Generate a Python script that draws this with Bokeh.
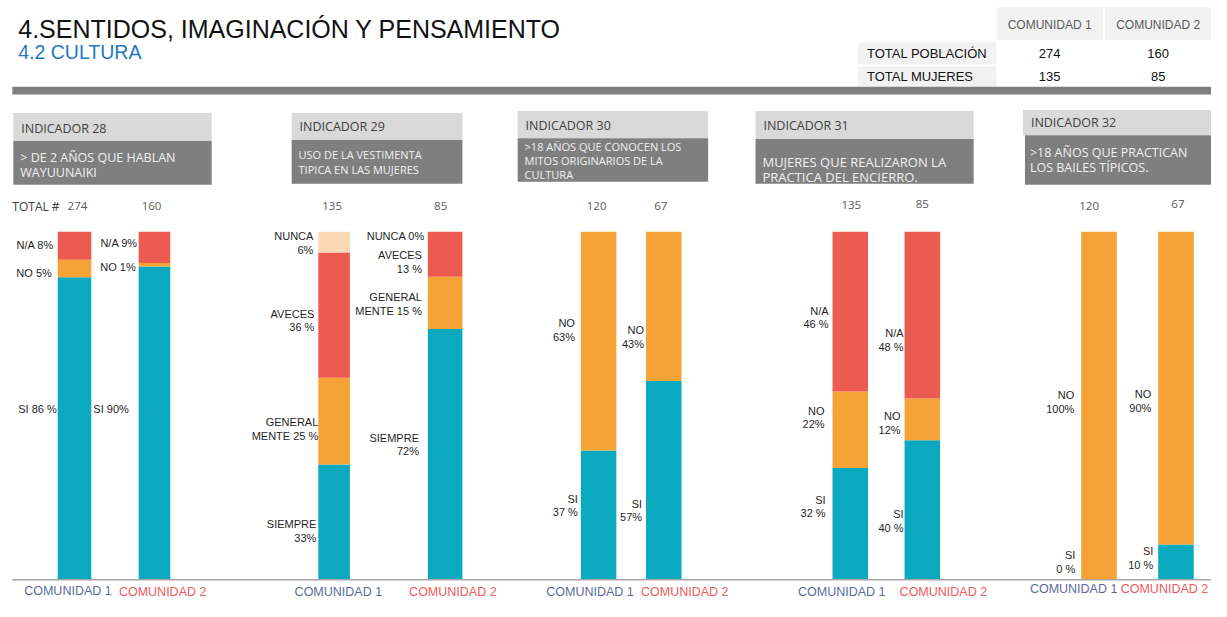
from bokeh.plotting import figure
from bokeh.models import Range1d, ColumnDataSource
from bokeh.embed import file_html
from bokeh.resources import INLINE
from bokeh.core.properties import value

# ---------------- DATA ----------------
communities = ["COMUNIDAD 1", "COMUNIDAD 2"]
table_rows = ["TOTAL POBLACIÓN", "TOTAL MUJERES"]
total_poblacion = [274, 160]
total_mujeres = [135, 85]

ind_titles = ["INDICADOR 28", "INDICADOR 29", "INDICADOR 30", "INDICADOR 31", "INDICADOR 32"]
ind_desc = [
    ["> DE 2 AÑOS QUE HABLAN", "WAYUUNAIKI"],
    ["USO DE LA VESTIMENTA", "TIPICA EN LAS MUJERES"],
    [">18 AÑOS QUE CONOCEN LOS", "MITOS ORIGINARIOS DE LA", "CULTURA"],
    ["MUJERES QUE REALIZARON LA", "PRACTICA DEL ENCIERRO."],
    [">18 AÑOS QUE PRACTICAN", "LOS BAILES TÍPICOS."],
]
ind_totals = [[274, 160], [135, 85], [120, 67], [135, 85], [120, 67]]

# stacked segments, bottom -> top, values in % for [COMUNIDAD 1, COMUNIDAD 2]
ind28_si = [86, 90]
ind28_no = [5, 1]
ind28_na = [8, 9]

ind29_siempre = [33, 72]
ind29_generalmente = [25, 15]
ind29_aveces = [36, 13]
ind29_nunca = [6, 0]

ind30_si = [37, 57]
ind30_no = [63, 43]

ind31_si = [32, 40]
ind31_no = [22, 12]
ind31_na = [46, 48]

ind32_si = [0, 10]
ind32_no = [100, 90]

# segment labels (lines) per indicator, per community
ind_labels = [
    [[["N/A 8%"], ["NO 5%"], ["SI 86 %"]], [["N/A 9%"], ["NO 1%"], ["SI 90%"]]],
    [[["NUNCA", "6%"], ["AVECES", "36 %"], ["GENERAL", "MENTE 25 %"], ["SIEMPRE", "33%"]],
     [["NUNCA  0%"], ["AVECES", "13 %"], ["GENERAL", "MENTE 15 %"], ["SIEMPRE", "72%"]]],
    [[["NO", "63%"], ["SI", "37 %"]], [["NO", "43%"], ["SI", "57%"]]],
    [[["N/A", "46 %"], ["NO", "22%"], ["SI", "32 %"]], [["N/A", "48 %"], ["NO", "12%"], ["SI", "40 %"]]],
    [[["NO", "100%"], ["SI", "0 %"]], [["NO", "90%"], ["SI", "10 %"]]],
]

# ---------------- STYLE / LAYOUT ----------------
TEAL, ORANGE, RED, PEACH = "#0AA9BF", "#F5A236", "#EC5B4F", "#FDD8B4"
C1_COLOR, C2_COLOR = "#5B6A9A", "#F05A5A"

series = [
    [(ind28_si, TEAL), (ind28_no, ORANGE), (ind28_na, RED)],
    [(ind29_siempre, TEAL), (ind29_generalmente, ORANGE), (ind29_aveces, RED), (ind29_nunca, PEACH)],
    [(ind30_si, TEAL), (ind30_no, ORANGE)],
    [(ind31_si, TEAL), (ind31_no, ORANGE), (ind31_na, RED)],
    [(ind32_si, TEAL), (ind32_no, ORANGE)],
]

bar_x = [[75, 156], [338, 450.5], [606, 672], [861, 934], [1113, 1191]]
bar_w = [[34, 32], [32, 35], [36, 36], [36, 36], [36, 36]]

# label anchor (right x, first line y) in page-layout pixels, same order as ind_labels
label_pos = [
    [[(54, 252), (52, 281), (57, 421)], [(139, 250), (137, 275), (130, 421)]],
    [[(317, 243), (318, 323), (322, 435), (320, 540)], [(433, 243), (427, 263), (427, 306), (424, 451)]],
    [[(582, 333), (585, 514)], [(652, 340), (650, 519)]],
    [[(839, 320), (835, 423), (836, 515)], [(915, 343), (912, 429), (915, 530)]],
    [[(1088, 407), (1089, 572)], [(1166, 406), (1168, 568)]],
]
total_pos = [[(78, 212), (153, 212)], [(336, 212), (446, 212)], [(604, 212), (669, 212)],
             [(862, 211), (934, 210)], [(1103, 212), (1193, 210)]]
cat_pos = [[(24, 609), (120, 610)], [(298, 610), (414, 610)], [(553, 610), (649, 610)],
           [(808, 610), (911, 610)], [(1043, 607), (1135, 607)]]

# indicator boxes: left, right, top, split, bottom, title_y, desc_y list, desc font size
boxes = [
    (13, 214, 116, 145, 190, 132, [162, 177], "12.5px"),
    (295, 468, 116, 144, 189, 130, [159, 174], "11px"),
    (524, 717, 114, 142, 187, 129, [151, 165, 179], "11px"),
    (765, 986, 114, 143, 189, 129, [167, 182], "13px"),
    (1036, 1227, 113, 139, 190, 126, [157, 172], "12.5px"),
]

BASE_REF = 597.0   # layout pixel of 0 %
PX_PER_PCT = 3.585


def ry(y_ref):
    return (BASE_REF - y_ref) / PX_PER_PCT


p = figure(width=1211, height=601, x_range=Range1d(0, 1227), y_range=Range1d(ry(620), ry(0)),
           output_backend="svg", toolbar_location=None, min_border=0, title=None)
p.axis.visible = False
p.grid.visible = False
p.outline_line_color = None
p.background_fill_color = "white"
p.border_fill_color = "white"

SANS = value("Liberation Sans")
LIGHT = value("Open Sans")


def txt(x, y, t, size, color, align="left", font=SANS, baseline="middle"):
    p.text(x=[x], y=[ry(y)], text=[t], text_font=font, text_font_size=size,
           text_color=color, text_align=align, text_baseline=baseline)


def box(l, r, t, b, color):
    p.quad(left=[l], right=[r], top=[ry(t)], bottom=[ry(b)], fill_color=color, line_color=None)


# --- title ---
txt(18, 29, "4.SENTIDOS, IMAGINACIÓN Y PENSAMIENTO", "25px", "#111111")
txt(18, 53, "4.2 CULTURA", "19.5px", "#1F77C6")

# --- summary table ---
box(1010, 1117, 7, 41, "#F2F2F2")
box(1119, 1227, 7, 41, "#F2F2F2")
box(869, 1009, 43, 66, "#F2F2F2")
box(869, 1009, 68, 89, "#F2F2F2")
col_cx = [1063, 1173]
for i, c in enumerate(communities):
    txt(col_cx[i], 25, c, "12px", "#595959", align="center")
for j, (row, vals) in enumerate(zip(table_rows, [total_poblacion, total_mujeres])):
    yy = 55 + 23 * j
    txt(878, yy, row, "13px", "#111111")
    for i, v in enumerate(vals):
        txt(col_cx[i], yy, str(v), "13px", "#111111", align="center")

# --- gray band ---
box(12, 1227, 89, 97, "#7F7F7F")

# --- indicator boxes ---
for k, (l, r, t, s, b, ty, dys, fs) in enumerate(boxes):
    box(l, r, t, s, "#D9D9D9")
    box(l + (2 if k == 4 else 0), r, s, b, "#7F7F7F")
    txt(l + 8, ty, ind_titles[k], "12.5px", "#404040", font=LIGHT)
    for line, dy in zip(ind_desc[k], dys):
        txt(l + 7, dy, line, fs, "#F0F0F0", font=LIGHT)

txt(12, 213, "TOTAL #", "12px", "#404040", font=LIGHT)

# --- bars ---
for k, segs in enumerate(series):
    for c in range(2):
        vals = [s[0][c] for s in segs]
        tot = sum(vals)
        xs, ws, bots, tops, cols = [], [], [], [], []
        acc = 0.0
        for (arr, color) in segs:
            v = arr[c] * 100.0 / tot
            xs.append(bar_x[k][c]); ws.append(bar_w[k][c])
            bots.append(acc); tops.append(acc + v); cols.append(color)
            acc += v
        src = ColumnDataSource(dict(x=xs, w=ws, bottom=bots, top=tops, color=cols))
        p.vbar(x="x", width="w", bottom="bottom", top="top", fill_color="color",
               line_color=None, source=src)
        # totals
        tx, tyy = total_pos[k][c]
        txt(tx, tyy, str(ind_totals[k][c]), "11.5px", "#595959", align="center", font=LIGHT)
        # segment labels
        for lines, (lx, ly) in zip(ind_labels[k][c], label_pos[k][c]):
            for n, line in enumerate(lines):
                txt(lx, ly + 14 * n, line, "11px", "#1F1F1F", align="right")
        # category labels
        cx, cy = cat_pos[k][c]
        txt(cx, cy, communities[c], "12.5px", C1_COLOR if c == 0 else C2_COLOR)

# --- baseline ---
p.segment(x0=[12], x1=[1227], y0=[ry(597.5)], y1=[ry(597.5)], line_color="#A6A6A6", line_width=1.6)

open("out.html", "w").write(file_html(p, INLINE))
